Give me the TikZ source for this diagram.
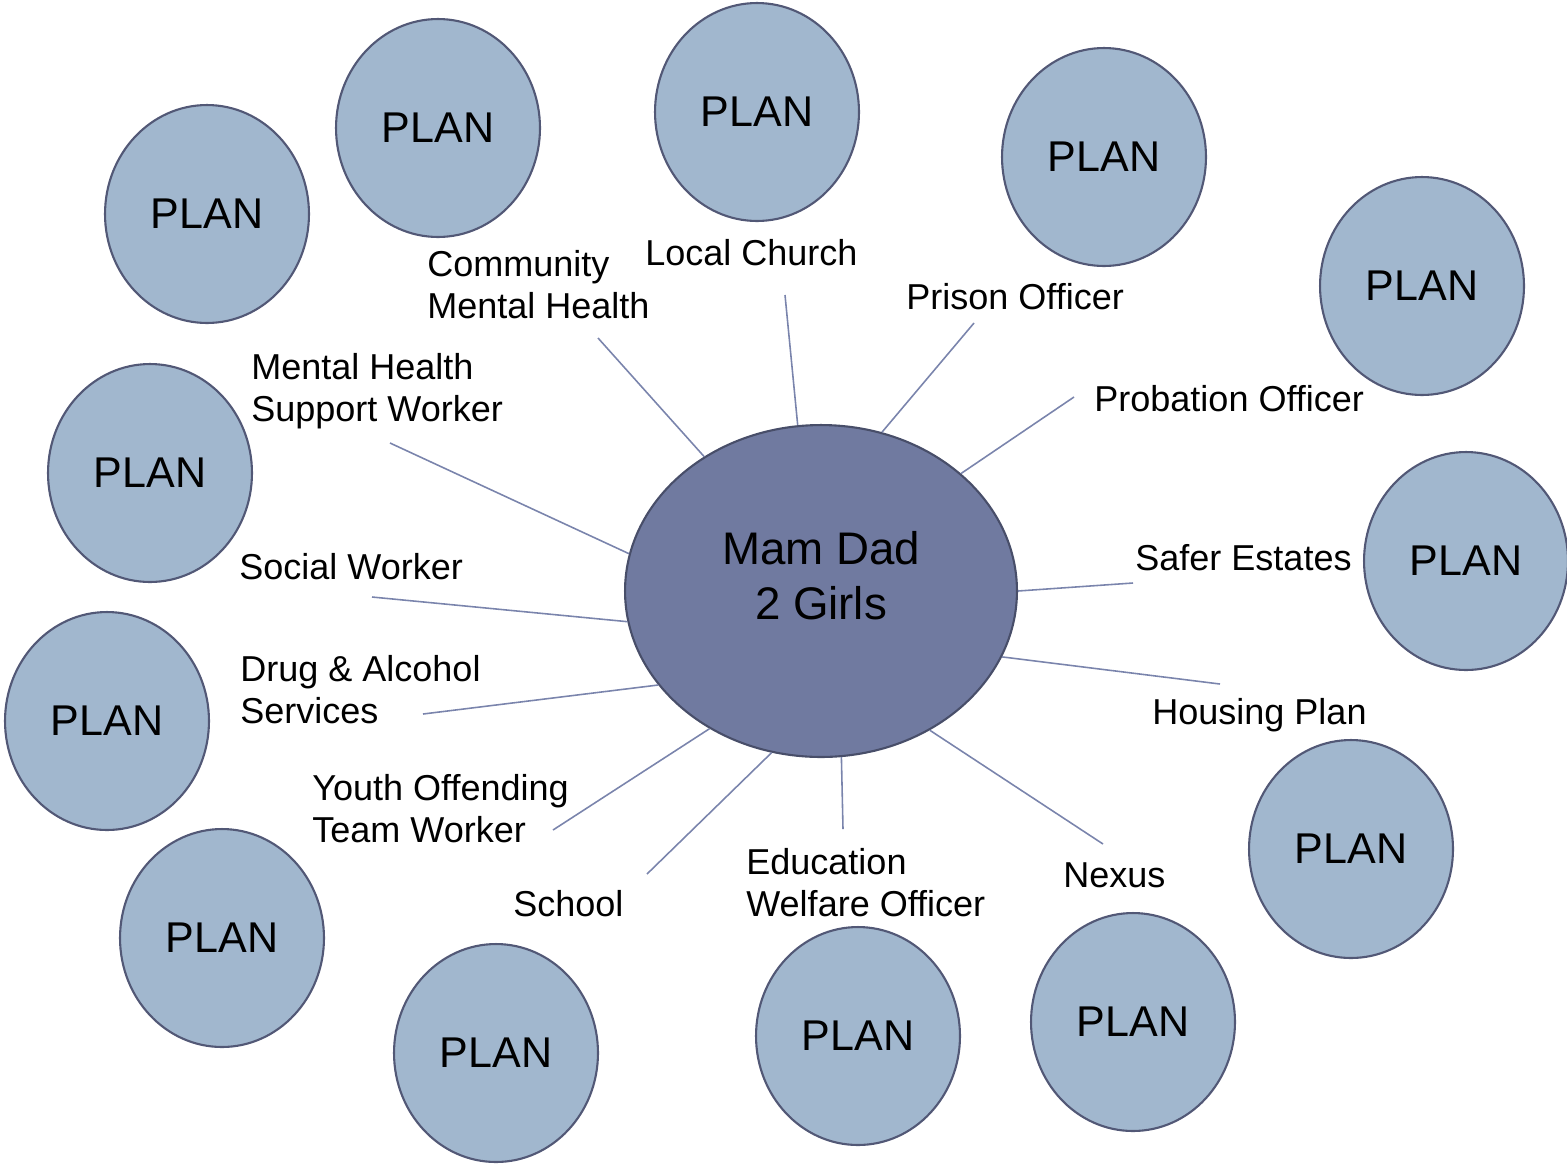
\documentclass[tikz,border=0pt]{standalone}
\usepackage{fontspec}
\setmainfont{Liberation Sans}
\usepackage{tikz}
\usetikzlibrary{shapes.geometric, positioning}
\definecolor{hubfill}{RGB}{112,122,160}
\definecolor{hubdraw}{RGB}{72,78,105}
\definecolor{planfill}{RGB}{161,183,206}
\definecolor{plandraw}{RGB}{82,88,118}
\definecolor{spokecol}{RGB}{122,132,172}
\tikzset{
  hub/.style={ellipse, draw=hubdraw, fill=hubfill, line width=1.2pt,
    minimum width=7.84cm, minimum height=6.64cm, inner sep=0pt},
  hubtext/.style={align=center, inner sep=0pt,
    font=\fontsize{26}{31.3}\selectfont},
  plan/.style={ellipse, draw=plandraw, fill=planfill, line width=1.2pt,
    minimum width=4.08cm, minimum height=4.36cm, inner sep=0pt,
    font=\fontsize{24.5}{29}\selectfont},
  lbl/.style={anchor=west, inner sep=0pt, align=left,
    font=\fontsize{20.5}{23.9}\selectfont},
  spoke/.style={draw=spokecol, line width=0.9pt}
}

\begin{document}
\begin{tikzpicture}[x=0.02cm, y=-0.02cm]
  \useasboundingbox (0,0) rectangle (1567,1164);

  % ── Family in the middle ───────────────────────────────────────────────
  \node[hub] (hub) at (821,591) {};
  \node[hubtext] (family) at (821,576) {Mam Dad\\2 Girls};

  % ── Plan circles round the outside ─────────────────────────────────────
  \node[plan] (p1)  at (207,214)  {PLAN};
  \node[plan] (p2)  at (438,128)  {PLAN};
  \node[plan] (p3)  at (757,112)  {PLAN};
  \node[plan] (p4)  at (1104,157) {PLAN};
  \node[plan] (p5)  at (1422,286) {PLAN};
  \node[plan] (p6)  at (1466,561) {PLAN};
  \node[plan] (p7)  at (1351,849) {PLAN};
  \node[plan] (p8)  at (1133,1022){PLAN};
  \node[plan] (p9)  at (858,1036) {PLAN};
  \node[plan] (p10) at (496,1053) {PLAN};
  \node[plan] (p11) at (222,938)  {PLAN};
  \node[plan] (p12) at (107,721)  {PLAN};
  \node[plan] (p13) at (150,473)  {PLAN};

  % ── Agency labels ──────────────────────────────────────────────────────
  \node[lbl] (commh)     at (427,285)  {Community\\Mental Health};
  \node[lbl] (church)    at (645,253)  {Local Church};
  \node[lbl] (prison)    at (906,297)  {Prison Officer};
  \node[lbl] (probation) at (1094,399) {Probation Officer};
  \node[lbl] (mhsw)      at (251,391)  {Mental Health\\Support Worker};
  \node[lbl] (safer)     at (1135,558) {Safer Estates};
  \node[lbl] (social)    at (239,567)  {Social Worker};
  \node[lbl] (housing)   at (1152,715) {Housing Plan};
  \node[lbl] (drug)      at (240,690)  {Drug \& Alcohol\\Services};
  \node[lbl] (yot)       at (312,809)  {Youth Offending\\Team Worker};
  \node[lbl] (school)    at (513,904)  {School};
  \node[lbl] (ewo)       at (746,883)  {Education\\Welfare Officer};
  \node[lbl] (nexus)     at (1063,875) {Nexus};

  % ── Spokes: free end by the label, other end on the hub border ─────────
  \coordinate (s-commh)     at (598,338);
  \coordinate (s-church)    at (785,295);
  \coordinate (s-prison)    at (974,323);
  \coordinate (s-probation) at (1074,397);
  \coordinate (s-mhsw)      at (390,443);
  \coordinate (s-safer)     at (1133,583);
  \coordinate (s-social)    at (372,597);
  \coordinate (s-housing)   at (1220,684);
  \coordinate (s-drug)      at (423,714);
  \coordinate (s-yot)       at (553,830);
  \coordinate (s-school)    at (647,874);
  \coordinate (s-ewo)       at (843,829);
  \coordinate (s-nexus)     at (1103,844);

  \draw[spoke] (s-commh) -- (hub.131.7);
  \draw[spoke] (s-church) -- (hub.98.1);
  \draw[spoke] (s-prison) -- (hub.69.3);
  \draw[spoke] (s-probation) -- (hub.40.6);
  \draw[spoke] (s-mhsw) -- (hub.169.6);
  \draw[spoke] (s-safer) -- (hub.0.3);
  \draw[spoke] (s-social) -- (hub.189.9);
  \draw[spoke] (s-housing) -- (hub.340.6);
  \draw[spoke] (s-drug) -- (hub.210.1);
  \draw[spoke] (s-yot) -- (hub.231.3);
  \draw[spoke] (s-school) -- (hub.253);
  \draw[spoke] (s-ewo) -- (hub.277.5);
  \draw[spoke] (s-nexus) -- (hub.308.8);
\end{tikzpicture}
\end{document}
